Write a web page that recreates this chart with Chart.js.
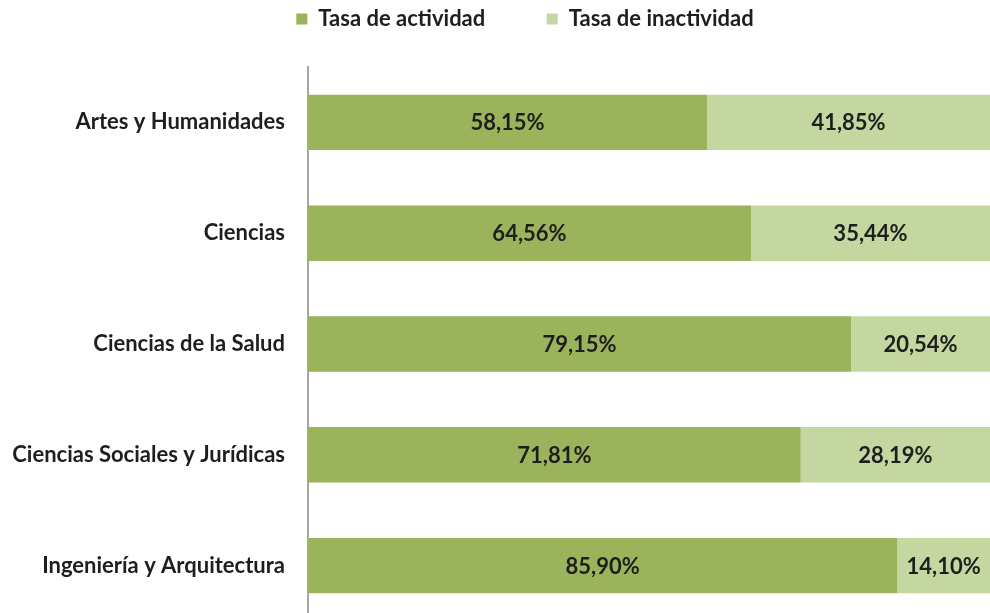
<!DOCTYPE html>
<html>
<head>
<meta charset="utf-8">
<script src="https://cdn.jsdelivr.net/npm/chart.js@4.4.0/dist/chart.umd.min.js"></script>
<style>
  html, body { margin: 0; padding: 0; background: #fff; overflow: hidden; }
</style>
</head>
<body>
<canvas id="chart" width="990" height="621"></canvas>
<script>
var categories = ["Artes y Humanidades", "Ciencias", "Ciencias de la Salud", "Ciencias Sociales y Jurídicas", "Ingeniería y Arquitectura"];
var actividad = [58.15, 64.56, 79.15, 71.81, 85.90];
var inactividad = [41.85, 35.44, 20.54, 28.19, 14.10];
var seriesNames = ["Tasa de actividad", "Tasa de inactividad"];

var FONT = "Lato, 'Open Sans', sans-serif";

function fmt(v) {
    return v.toFixed(2).replace(".", ",") + "%";
}

// draw the percent labels in the middle of each bar
var barLabels = {
    id: 'barLabels',
    afterDatasetsDraw: function(chart) {
        var ctx = chart.ctx;
        ctx.save();
        ctx.font = "bold 22px " + FONT;
        ctx.fillStyle = "#1e1e1e";
        ctx.textAlign = "center";
        ctx.textBaseline = "middle";
        chart.data.datasets.forEach(function(ds, i) {
            chart.getDatasetMeta(i).data.forEach(function(bar, j) {
                var right = Math.min(bar.x, 990);
                var cx = (bar.base + right) / 2;
                ctx.fillText(fmt(ds.data[j]), cx, bar.y + 1);
            });
        });
        ctx.restore();
    }
};

// fixed legend height, nudge the legend to the right
var legendTweak = {
    id: 'legendTweak',
    beforeInit: function(chart) {
        var legend = chart.legend;
        var fit = legend.fit;
        legend.fit = function() {
            fit.bind(legend)();
            this.height = 67;
        };
        var draw = legend.draw;
        legend.draw = function() {
            var ctx = chart.ctx;
            ctx.save();
            ctx.translate(30, 0);
            draw.bind(legend)();
            ctx.restore();
        };
    }
};

var ctx = document.getElementById("chart").getContext('2d');
new Chart(ctx, {
    type: 'bar',
    data: {
        labels: categories,
        datasets: [{
            label: seriesNames[0],
            data: actividad,
            backgroundColor: '#9bb35a',
            categoryPercentage: 0.5,
            barPercentage: 1
        }, {
            label: seriesNames[1],
            data: inactividad,
            backgroundColor: '#c4d7a0',
            categoryPercentage: 0.5,
            barPercentage: 1
        }]
    },
    options: {
        indexAxis: 'y',
        responsive: false,
        animation: false,
        layout: { padding: 0 },
        plugins: {
            legend: {
                position: 'top',
                labels: {
                    boxWidth: 11,
                    boxHeight: 11,
                    padding: 8,
                    color: '#1e1e1e',
                    font: { family: FONT, size: 22, weight: 'bold' },
                    generateLabels: function(chart) {
                        var items = Chart.defaults.plugins.legend.labels.generateLabels(chart);
                        // wider gap after the first item
                        items[0].text = items[0].text + "          ";
                        return items;
                    }
                }
            },
            tooltip: { enabled: false }
        },
        scales: {
            x: {
                stacked: true,
                display: false,
                min: 0,
                max: 99.4
            },
            y: {
                stacked: true,
                afterFit: function(scale) {
                    scale.width = 308;
                    scale.paddingTop = 0;
                    scale.paddingBottom = 0;
                },
                grid: { display: false, drawTicks: false },
                border: { display: true, color: '#a6a6a6', width: 2 },
                ticks: {
                    padding: 23,
                    color: '#1e1e1e',
                    font: { family: FONT, size: 22, weight: 'bold' }
                }
            }
        }
    },
    plugins: [barLabels, legendTweak]
});
</script>
</body>
</html>
